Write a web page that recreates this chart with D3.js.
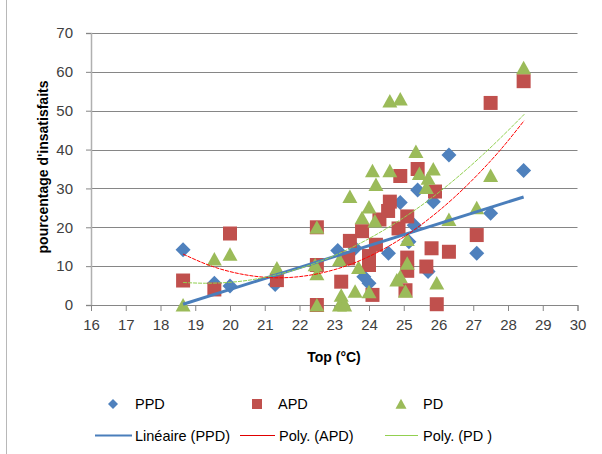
<!DOCTYPE html>
<html><head><meta charset="utf-8">
<script src="https://cdn.jsdelivr.net/npm/d3@7"></script>
<style>body{margin:0;background:#fff}svg{display:block}text{font-family:"Liberation Sans",Arial,sans-serif}</style>
</head><body>
<script>
const xTicks = [16,17,18,19,20,21,22,23,24,25,26,27,28,29,30];
const yTicks = [0,10,20,30,40,50,60,70];
const seriesNames = ["PPD","APD","PD"];
const trendNames = ["Linéaire (PPD)","Poly. (APD)","Poly. (PD )"];
const ppd = [[18.65,14.2],[19.55,5.6],[20.0,4.9],[21.3,5.3],[23.1,14.0],[23.6,14.6],[23.85,7.3],[24.0,5.6],[24.56,13.3],[24.9,26.4],[25.4,29.6],[25.3,20.5],[25.15,16.3],[25.7,8.6],[25.85,26.6],[26.3,38.6],[27.1,13.3],[27.5,23.6],[28.45,34.6]];
const apd = [[18.65,6.3],[19.55,4.0],[20.0,18.4],[21.35,6.4],[22.5,20.0],[22.5,10.3],[22.5,0],[23.2,6.0],[23.4,12.0],[23.45,16.5],[23.8,19.0],[24.0,12.6],[24.0,10.3],[24.1,2.6],[24.2,15.5],[24.3,22],[24.55,24.2],[24.6,26.6],[24.85,19.7],[24.9,33.2],[25.1,22.8],[25.1,12.2],[25.1,8.8],[25.05,3.8],[25.4,35],[25.65,9.9],[25.8,14.6],[25.9,29.2],[25.95,0.2],[26.3,13.7],[27.1,18],[27.5,52],[28.45,57.6]];
const pd = [[18.65,0],[19.55,11.8],[20.0,13.0],[21.35,9.5],[22.5,20.0],[22.45,10.3],[22.5,8.0],[22.5,0],[23.15,11.6],[23.2,2.5],[23.25,1.0],[23.15,0],[23.3,0],[23.45,27.9],[23.6,3.5],[23.7,9.6],[23.8,22.4],[24.0,25.2],[24.0,3.4],[24.1,34.5],[24.2,31],[24.17,21.6],[24.6,34.5],[24.6,52.5],[24.9,53],[24.8,6.4],[24.9,7.3],[25.05,3.5],[25.1,10.7],[25.1,16.8],[25.35,39.5],[25.45,33.8],[25.65,30.2],[25.7,32.6],[25.85,35],[25.95,5.6],[26.3,22],[27.1,25],[27.5,33.3],[28.45,61]];
const trendPPD = [[18.65,0.2],[28.45,27.8]];
const trendAPD = [[18.65,13.1],[19.5,9.9],[20.3,8.0],[21.4,7.0],[22.5,8.0],[23.45,10.4],[24.4,14.3],[25.0,17.5],[25.7,22.0],[26.43,27.5],[27.1,33.3],[27.77,39.8],[28.46,47.4]];
const trendPD = [[18.65,5.8],[19.3,5.6],[20.2,6.0],[21.2,7.5],[22.0,9.4],[23.0,12.7],[23.9,16.6],[24.9,21.9],[25.66,26.6],[26.6,33.3],[27.4,39.7],[28.47,49.1]];

const W=602,H=454;
const svg=d3.select("body").append("svg").attr("width",W).attr("height",H);
const x=d3.scaleLinear().domain([16,30]).range([91,577.5]);
const y=d3.scaleLinear().domain([0,70]).range([305,33]);
const cBlue="#4f81bd",cRed="#c0504d",cGreen="#9bbb59";

// chart border (left)
svg.append("line").attr("x1",6.5).attr("x2",6.5).attr("y1",0).attr("y2",H).attr("stroke","#b8b8b8");

// gridlines
svg.append("g").selectAll("line").data(yTicks).join("line")
  .attr("x1",x(16)).attr("x2",x(30)).attr("y1",d=>Math.round(y(d))+0.5).attr("y2",d=>Math.round(y(d))+0.5)
  .attr("stroke","#868686").attr("stroke-width",1);
// y axis
const ya=svg.append("g").attr("transform",`translate(${x(16)},0)`).call(d3.axisLeft(y).tickValues(yTicks).tickSize(5).tickPadding(13));
ya.select(".domain").attr("stroke","#b0b0b0").attr("stroke-width",1.5);
ya.selectAll(".tick line").attr("stroke","#868686");
ya.selectAll("text").attr("font-size",15).attr("fill","#404040").attr("font-family","Liberation Sans, Arial");
// x axis
const xa=svg.append("g").attr("transform",`translate(0,${y(0)})`).call(d3.axisBottom(x).tickValues(xTicks).tickSize(6).tickPadding(8));
xa.select(".domain").attr("stroke","#868686");
xa.selectAll(".tick line").attr("stroke","#868686");
xa.selectAll("text").attr("font-size",15).attr("fill","#404040").attr("font-family","Liberation Sans, Arial");

// titles
svg.append("text").attr("transform","translate(48,167) rotate(-90)").attr("text-anchor","middle")
  .attr("font-size",14).attr("font-weight","bold").attr("fill","#000").text("pourcentage d'insatisfaits");
svg.append("text").attr("x",334).attr("y",362).attr("text-anchor","middle")
  .attr("font-size",14).attr("font-weight","bold").attr("fill","#000").text("Top (°C)");

// markers
const diamond=(s)=>`M0,${-s}L${s},0L0,${s}L${-s},0Z`;
const square=(s)=>`M${-s},${-s}H${s}V${s}H${-s}Z`;
const tri=(s)=>`M0,${-s*0.95}L${s},${s*0.85}L${-s},${s*0.85}Z`;
svg.append("g").selectAll("path").data(ppd).join("path").attr("d",diamond(7.5))
  .attr("transform",d=>`translate(${x(d[0])},${y(d[1])})`).attr("fill",cBlue);
svg.append("g").selectAll("path").data(apd).join("path").attr("d",square(7))
  .attr("transform",d=>`translate(${x(d[0])},${y(d[1])})`).attr("fill",cRed);
svg.append("g").selectAll("path").data(pd).join("path").attr("d",tri(7.5))
  .attr("transform",d=>`translate(${x(d[0])},${y(d[1])})`).attr("fill",cGreen);

// trend lines
const line=d3.line().x(d=>x(d[0])).y(d=>y(d[1]));
const cline=d3.line().x(d=>x(d[0])).y(d=>y(d[1])).curve(d3.curveMonotoneX);
svg.append("path").attr("d",line(trendPPD)).attr("fill","none").attr("stroke","#4a7ebb").attr("stroke-width",3);
svg.append("path").attr("d",cline(trendAPD)).attr("fill","none").attr("stroke","#ff0000").attr("stroke-width",1).attr("stroke-dasharray","4,1");
svg.append("path").attr("d",cline(trendPD)).attr("fill","none").attr("stroke","#92d050").attr("stroke-width",1).attr("stroke-dasharray","4,1");

// legend
const lg=svg.append("g");
const row1=[{n:seriesNames[0],mx:113,tx:135,d:diamond(5),c:cBlue},{n:seriesNames[1],mx:257,tx:278,d:square(5),c:cRed},{n:seriesNames[2],mx:401,tx:423,d:tri(5.5),c:cGreen}];
row1.forEach(r=>{
  lg.append("path").attr("d",r.d).attr("transform",`translate(${r.mx},404)`).attr("fill",r.c);
  lg.append("text").attr("x",r.tx).attr("y",409).attr("font-size",14.5).attr("fill","#000").text(r.n);
});
const row2=[{n:trendNames[0],x1:95,x2:132,tx:135,c:"#4a7ebb",w:2},{n:trendNames[1],x1:240,x2:275,tx:279,c:"#e00000",w:1},{n:trendNames[2],x1:385,x2:418,tx:423,c:"#92d050",w:1}];
row2.forEach(r=>{
  lg.append("line").attr("x1",r.x1).attr("x2",r.x2).attr("y1",435.5).attr("y2",435.5).attr("stroke",r.c).attr("stroke-width",r.w);
  lg.append("text").attr("x",r.tx).attr("y",441).attr("font-size",14.5).attr("fill","#000").text(r.n);
});
</script>
</body></html>
